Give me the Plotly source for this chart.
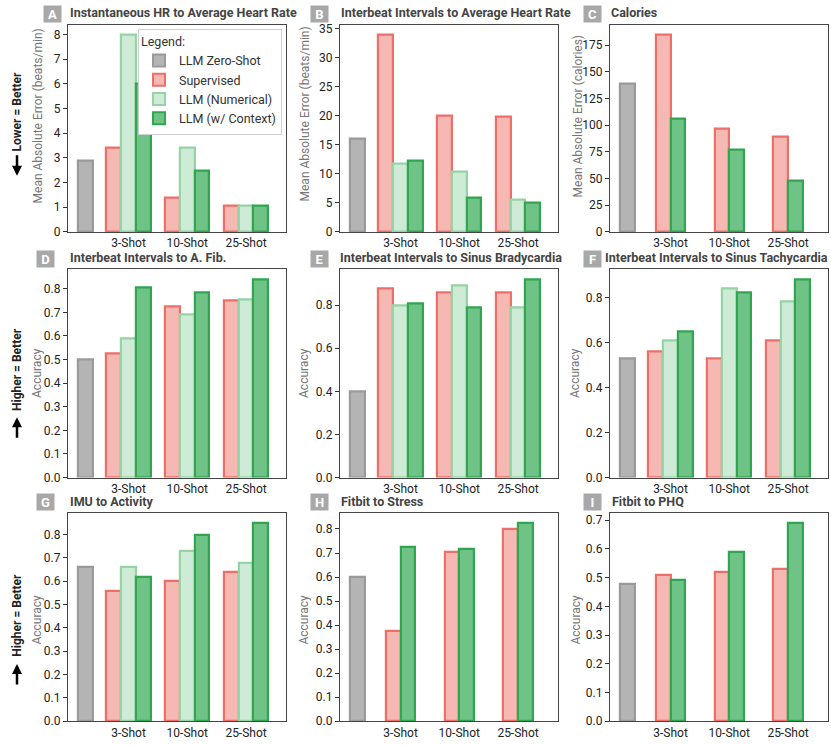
import plotly.graph_objects as go
from plotly.subplots import make_subplots

# values
shots = ["3-Shot", "10-Shot", "25-Shot"]
models = ["LLM Zero-Shot", "Supervised", "LLM (Numerical)", "LLM (w/ Context)"]

letters = ["A", "B", "C", "D", "E", "F", "G", "H", "I"]
titles = [
    "Instantaneous HR to Average Heart Rate",
    "Interbeat Intervals to Average Heart Rate",
    "Calories",
    "Interbeat Intervals to A. Fib.",
    "Interbeat Intervals to Sinus Bradycardia",
    "Interbeat Intervals to Sinus Tachycardia",
    "IMU to Activity",
    "Fitbit to Stress",
    "Fitbit to PHQ",
]
ylabels = [
    "Mean Absolute Error (beats/min)",
    "Mean Absolute Error (beats/min)",
    "Mean Absolute Error (calories)",
    "Accuracy", "Accuracy", "Accuracy",
    "Accuracy", "Accuracy", "Accuracy",
]

zero_shot = [2.87, 16.0, 139, 0.50, 0.40, 0.53, 0.66, 0.60, 0.477]
supervised = [
    [3.4, 1.37, 1.07],
    [34.0, 20.0, 19.8],
    [185, 97, 89],
    [0.525, 0.725, 0.75],
    [0.88, 0.86, 0.86],
    [0.56, 0.53, 0.61],
    [0.56, 0.60, 0.64],
    [0.375, 0.705, 0.80],
    [0.51, 0.52, 0.53],
]
numerical = [
    [8.0, 3.4, 1.05],
    [11.8, 10.3, 5.5],
    None,
    [0.59, 0.69, 0.755],
    [0.80, 0.89, 0.79],
    [0.61, 0.84, 0.78],
    [0.66, 0.73, 0.68],
    None,
    None,
]
context = [
    [6.0, 2.5, 1.05],
    [12.3, 5.9, 5.0],
    [106, 77, 48],
    [0.805, 0.785, 0.84],
    [0.81, 0.79, 0.92],
    [0.65, 0.82, 0.88],
    [0.62, 0.80, 0.85],
    [0.725, 0.715, 0.825],
    [0.49, 0.59, 0.69],
]
ydticks = [1, 5, 25, 0.1, 0.2, 0.2, 0.1, 0.1, 0.1]

# layout positions in window pixels
W, H = 831, 745
col_px = [(68, 286), (340, 558), (610, 828)]
row_px = [(22, 232), (270, 481), (517, 728)]
title_y = [10, 258, 505]
title_x = [68, 339, 609, 68, 338, 603, 68, 339, 610]
letter_x = [52, 319, 592, 45, 319, 592, 45, 319, 592]
ytitle_x = [38, 305, 578, 37, 304, 575, 37, 304, 576]
ytitle_y = [115, 113, 115, 375, 375, 375, 625, 625, 625]


def fx(v):
    return v / W


def fy(v):
    return 1 - v / H


fills = ["#b4b4b4", "#f6b8b3", "#cdebd5", "#70c387"]
edges = ["#9a9a9a", "#ee6f68", "#96d4a5", "#2fa64f"]

FONT = "Roboto"
fig = make_subplots(rows=3, cols=3)

pos_grp = [1, 2, 3]
w = 0.25
for i in range(9):
    r, c = i // 3 + 1, i % 3 + 1
    series = [supervised[i], numerical[i], context[i]]
    present = [s for s in series if s is not None]
    n = len(present)
    offs = [(k - (n - 1) / 2) * w for k in range(n)]
    fig.add_trace(go.Bar(x=[0.27], y=[zero_shot[i]], width=w, name=models[0],
                         marker=dict(color=fills[0], line=dict(color=edges[0], width=2.2)),
                         showlegend=(i == 0), legendgroup=models[0]), row=r, col=c)
    k = 0
    for m, s in enumerate(series):
        if s is None:
            continue
        fig.add_trace(go.Bar(x=[p + offs[k] for p in pos_grp], y=s, width=w, name=models[m + 1],
                             marker=dict(color=fills[m + 1], line=dict(color=edges[m + 1], width=2.2)),
                             showlegend=(i == 0), legendgroup=models[m + 1]), row=r, col=c)
        k += 1
    ymax = max([zero_shot[i]] + [v for s in present for v in s]) * 1.05
    xr = [-0.03, 3.68]
    fig.update_xaxes(domain=[fx(col_px[c - 1][0]), fx(col_px[c - 1][1])], range=xr,
                     tickvals=pos_grp, ticktext=shots, ticks="", showgrid=False, zeroline=False,
                     showline=True, mirror=True, linecolor="#444", linewidth=1.2,
                     tickfont=dict(size=12, color="#222", family=FONT), row=r, col=c)
    fig.update_yaxes(domain=[fy(row_px[r - 1][1]), fy(row_px[r - 1][0])],
                     range=[0, ymax], dtick=ydticks[i], tick0=0,
                     tickformat=".1f" if ydticks[i] < 1 else "d",
                     ticks="outside", ticklen=4, tickcolor="#333", showgrid=False, zeroline=False,
                     showline=True, mirror=True, linecolor="#444", linewidth=1.2,
                     tickfont=dict(size=12, color="#222", family=FONT),
                     row=r, col=c)
    # y axis title
    fig.add_annotation(xref="paper", yref="paper", x=fx(ytitle_x[i]), y=fy(ytitle_y[i]),
                       xanchor="center", yanchor="middle", showarrow=False, textangle=-90,
                       text=ylabels[i], font=dict(size=12, color="#777", family=FONT))
    # panel title and letter
    fig.add_annotation(xref="paper", yref="paper", x=fx(title_x[i]), y=fy(title_y[r - 1]),
                       xanchor="left", yanchor="middle", showarrow=False,
                       text="<b>" + titles[i] + "</b>",
                       font=dict(size=12.5, color="#444", family=FONT))
    fig.add_annotation(xref="paper", yref="paper", x=fx(letter_x[i]), y=fy(title_y[r - 1] + 1),
                       xanchor="center", yanchor="middle", showarrow=False,
                       text="<b>" + letters[i] + "</b>", bgcolor="#a8a8a8", borderpad=1,
                       width=15, height=14,
                       font=dict(size=13, color="white", family=FONT))

# left side "better" hints
hints = [("Lower = Better", 110, 175, -22), ("Higher = Better", 372, 420, 22), ("Higher = Better", 621, 670, 22)]
for txt, yc, ya, d in hints:
    fig.add_annotation(xref="paper", yref="paper", x=fx(17), y=fy(yc), text="<b>" + txt + "</b>",
                       textangle=-90, showarrow=False, xanchor="center", yanchor="middle",
                       font=dict(size=12, color="#222", family=FONT))
    fig.add_annotation(xref="paper", yref="paper", x=fx(17), y=fy(ya), ax=0, ay=d,
                       text="", showarrow=True, arrowhead=2, arrowsize=0.8, arrowwidth=2.5,
                       arrowcolor="black")

fig.update_layout(
    width=W, height=H,
    margin=dict(l=0, r=0, t=0, b=0),
    plot_bgcolor="white", paper_bgcolor="white",
    barmode="overlay", bargap=0,
    font=dict(family=FONT, size=12, color="#222"),
    legend=dict(title=dict(text="Legend:", font=dict(size=12.5, color="#333")),
                x=fx(282), y=fy(26), xanchor="right", yanchor="top",
                bgcolor="white", bordercolor="#cfcfcf", borderwidth=1,
                font=dict(size=12.5, color="#333", family=FONT), tracegroupgap=0,
                itemsizing="constant", itemwidth=30),
)

# drop the default page margin so the figure sits at the window corner
fig.write_html("out.html", config={"displayModeBar": False},
               post_script="document.body.style.margin='0px';")
